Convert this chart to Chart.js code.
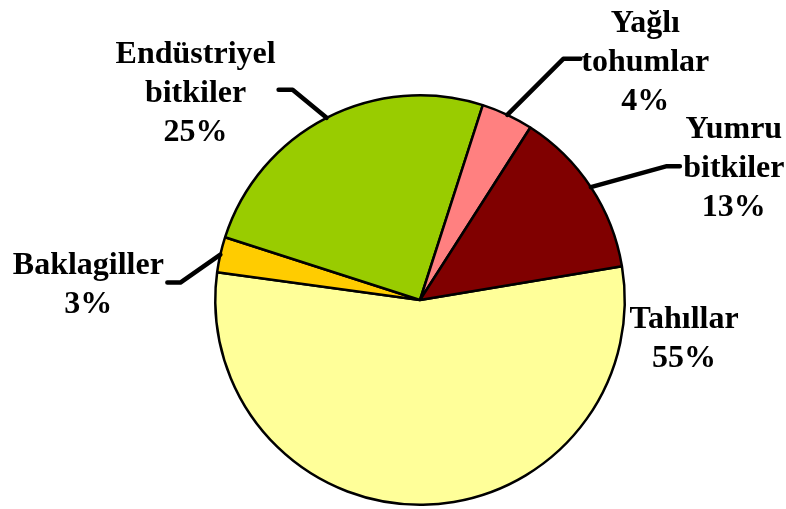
<!DOCTYPE html>
<html>
<head>
<meta charset="utf-8">
<script src="https://cdn.jsdelivr.net/npm/chart.js@4/dist/chart.umd.min.js"></script>
<style>
    html, body { margin: 0; padding: 0; background: #fff; }
    #wrap { width: 786px; height: 509px; position: relative; }
</style>
</head>
<body>
<div id="wrap"><canvas id="pie"></canvas></div>
<script>
/* Ürün grupları pasta grafiği — Excel tarzı etiketler ve kılavuz çizgileri */

const CATEGORIES = ['Tahıllar', 'Baklagiller', 'Endüstriyel bitkiler', 'Yağlı tohumlar', 'Yumru bitkiler'];
const SHARES = [54.8, 2.8, 25.0, 4.1, 13.3];
const COLORS = ['#ffff99', '#ffcc00', '#99cc00', '#ff8080', '#800000'];

// label placement relative to the slice's outer edge (elbow offset, tail length, text offset)
const LABEL_LAYOUT = [
    { elbow: null,      tail: 0,   text: [261, -177] },
    { elbow: [-40, 28], tail: -13, text: [-79, -9] },
    { elbow: [-34, -28], tail: -14, text: [-83, -27] },
    { elbow: [56, -56], tail: 17,  text: [65, -27] },
    { elbow: [76, -21], tail: 13,  text: [54, -28] },
];

const FONT = 'bold 32px "Liberation Serif", "Times New Roman", serif';
const LINE_H = 39;

const leaderLabels = {
    id: 'leaderLabels',
    afterDatasetsDraw(chart) {
        const ctx = chart.ctx;
        const meta = chart.getDatasetMeta(0);
        const data = chart.data.datasets[0].data;
        const total = data.reduce((a, b) => a + b, 0);
        meta.data.forEach((arc, i) => {
            const { x, y, startAngle, endAngle, outerRadius } =
                arc.getProps(['x', 'y', 'startAngle', 'endAngle', 'outerRadius'], true);
            const mid = (startAngle + endAngle) / 2;
            const ex = x + Math.cos(mid) * outerRadius;
            const ey = y + Math.sin(mid) * outerRadius;
            const lay = LABEL_LAYOUT[i];
            let ax = ex, ay = ey;
            ctx.save();
            if (lay.elbow) {
                const bx = ex + lay.elbow[0], by = ey + lay.elbow[1];
                ax = bx + lay.tail; ay = by;
                ctx.beginPath();
                ctx.moveTo(ex, ey);
                ctx.lineTo(bx, by);
                ctx.lineTo(ax, ay);
                ctx.strokeStyle = '#000';
                ctx.lineWidth = 4.5;
                ctx.lineJoin = 'round';
                ctx.lineCap = 'round';
                ctx.stroke();
            }
            const lines = chart.data.labels[i].split(' ');
            lines.push(Math.round(data[i] / total * 100) + '%');
            ctx.font = FONT;
            ctx.fillStyle = '#000';
            ctx.textAlign = 'center';
            ctx.textBaseline = 'alphabetic';
            const tx = ax + lay.text[0];
            const ty = ay + lay.text[1];
            lines.forEach((t, k) => ctx.fillText(t, tx, ty + k * LINE_H));
            ctx.restore();
        });
    }
};

new Chart(document.getElementById('pie').getContext('2d'), {
    type: 'pie',
    data: {
        labels: CATEGORIES,
        datasets: [{
            data: SHARES,
            backgroundColor: COLORS,
            borderColor: '#000',
            borderWidth: 2.5,
        }],
    },
    options: {
        responsive: true,
        maintainAspectRatio: false,
        animation: false,
        events: [],
        rotation: 80.5,
        layout: { padding: { left: 214, right: 160, top: 94, bottom: 3 } },
        plugins: { legend: { display: false }, tooltip: { enabled: false } },
    },
    plugins: [leaderLabels],
});
</script>
</body>
</html>
